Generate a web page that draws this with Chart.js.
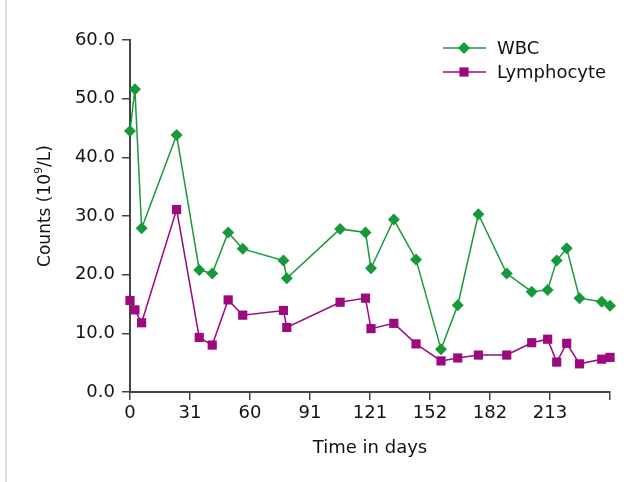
<!DOCTYPE html>
<html>
<head>
<meta charset="utf-8">
<script src="https://cdn.jsdelivr.net/npm/chart.js@4"></script>
<style>
  html, body { margin: 0; padding: 0; background: #fff; }
  #wrap { position: relative; width: 633px; height: 482px; }
  #edge { position: absolute; left: 5px; top: 0; width: 2px; height: 482px; background: #dcdcdc; }
</style>
</head>
<body>
<div id="wrap">
  <div id="edge"></div>
  <canvas id="chart" width="633" height="482"></canvas>
</div>
<script>
// axis units: one month interval = 30.5 units
const days = [0, 2.5, 5.9, 23.7, 35.2, 41.8, 49.9, 57.3, 78.0, 79.7, 106.8, 119.7, 122.5,
  134.1, 145.4, 158.1, 166.6, 177.1, 191.5, 204.2, 212.3, 216.9, 222.0, 228.5, 239.8, 244.0];
const wbc = [44.5, 51.6, 27.9, 43.8, 20.8, 20.2, 27.2, 24.4, 22.4, 19.4, 27.8, 27.2, 21.1,
  29.4, 22.6, 7.3, 14.8, 30.3, 20.2, 17.1, 17.4, 22.4, 24.5, 16.0, 15.4, 14.7];
const lymphocyte = [15.6, 14.0, 11.8, 31.1, 9.3, 8.0, 15.7, 13.1, 13.9, 11.0, 15.3, 16.0, 10.8,
  11.7, 8.2, 5.3, 5.8, 6.3, 6.3, 8.4, 9.0, 5.1, 8.3, 4.8, 5.6, 5.9];
const xTickPos = [0, 30.5, 61, 91.5, 122, 152.5, 183, 213.5, 244];
const xTickLabels = ['0', '31', '60', '91', '121', '152', '182', '213', ''];

const GREEN = '#17993a';
const MAGENTA = '#9c0a7d';
const FONT = "'DejaVu Sans', sans-serif";

const toPoints = (xs, ys) => xs.map((x, i) => ({ x, y: ys[i] }));

function drawMarker(ctx, style, x, y, r, color) {
  ctx.fillStyle = color;
  ctx.beginPath();
  if (style === 'rectRot') {
    ctx.moveTo(x - r, y); ctx.lineTo(x, y - r); ctx.lineTo(x + r, y); ctx.lineTo(x, y + r);
  } else {
    const s = r * Math.SQRT1_2;
    ctx.rect(x - s, y - s, 2 * s, 2 * s);
  }
  ctx.closePath();
  ctx.fill();
}

// titles and legend drawn by hand (superscript + line/marker legend)
const extras = {
  id: 'extras',
  afterDraw(chart) {
    const ctx = chart.ctx;
    ctx.save();
    ctx.fillStyle = '#111';
    ctx.textBaseline = 'middle';

    // x title
    ctx.font = '18px ' + FONT;
    ctx.textAlign = 'center';
    ctx.fillText('Time in days', 370, 448);

    // y title with superscript
    ctx.translate(46, 206);
    ctx.rotate(-Math.PI / 2);
    const p1 = 'Counts (10', sup = '9', p2 = '/L)';
    ctx.font = '17px ' + FONT;
    const w1 = ctx.measureText(p1).width, w3 = ctx.measureText(p2).width;
    ctx.font = '11px ' + FONT;
    const w2 = ctx.measureText(sup).width;
    let x0 = -(w1 + w2 + w3) / 2;
    ctx.textAlign = 'left';
    ctx.font = '17px ' + FONT;
    ctx.fillText(p1, x0, 0);
    ctx.font = '11px ' + FONT;
    ctx.fillText(sup, x0 + w1, -7);
    ctx.font = '17px ' + FONT;
    ctx.fillText(p2, x0 + w1 + w2, 0);
    ctx.restore();

    // legend
    ctx.save();
    const items = [
      { label: 'WBC', color: GREEN, style: 'rectRot', r: 6, y: 48 },
      { label: 'Lymphocyte', color: MAGENTA, style: 'rect', r: 6.5, y: 72 }
    ];
    items.forEach(it => {
      ctx.strokeStyle = it.color;
      ctx.lineWidth = 1.5;
      ctx.beginPath();
      ctx.moveTo(443, it.y); ctx.lineTo(486, it.y);
      ctx.stroke();
      drawMarker(ctx, it.style, 464, it.y, it.r, it.color);
      ctx.fillStyle = '#111';
      ctx.font = '18px ' + FONT;
      ctx.textAlign = 'left';
      ctx.textBaseline = 'middle';
      ctx.fillText(it.label, 497, it.y + 1);
    });
    ctx.restore();
  }
};

new Chart(document.getElementById('chart'), {
  type: 'line',
  data: {
    datasets: [
      {
        label: 'WBC',
        data: toPoints(days, wbc),
        borderColor: GREEN,
        backgroundColor: GREEN,
        borderWidth: 1.5,
        pointStyle: 'rectRot',
        pointRadius: 6,
        pointBorderWidth: 0,
        tension: 0,
        clip: false
      },
      {
        label: 'Lymphocyte',
        data: toPoints(days, lymphocyte),
        borderColor: MAGENTA,
        backgroundColor: MAGENTA,
        borderWidth: 1.5,
        pointStyle: 'rect',
        pointRadius: 6.5,
        pointBorderWidth: 0,
        tension: 0,
        clip: false
      }
    ]
  },
  options: {
    responsive: false,
    animation: false,
    events: [],
    layout: { padding: { left: 0, right: 23, top: 40, bottom: 0 } },
    plugins: {
      legend: { display: false },
      tooltip: { enabled: false }
    },
    scales: {
      x: {
        type: 'linear',
        min: 0,
        max: 244,
        afterFit: s => { s.height = 90; },
        afterBuildTicks: s => { s.ticks = xTickPos.map(v => ({ value: v })); },
        grid: { drawOnChartArea: false, drawTicks: true, tickLength: 8, color: '#444', lineWidth: 1.5 },
        border: { display: true, color: '#444', width: 2 },
        ticks: {
          autoSkip: false,
          maxRotation: 0,
          padding: 3,
          color: '#111',
          font: { family: FONT, size: 18 },
          callback: (v, i) => xTickLabels[i]
        }
      },
      y: {
        min: 0,
        max: 60,
        afterFit: s => { s.width = 130; },
        grid: { drawOnChartArea: false, drawTicks: true, tickLength: 8, color: '#444', lineWidth: 1.5 },
        border: { display: true, color: '#444', width: 2 },
        ticks: {
          stepSize: 10,
          padding: 7,
          color: '#111',
          font: { family: FONT, size: 18 },
          callback: v => v.toFixed(1)
        }
      }
    }
  },
  plugins: [extras]
});
</script>
</body>
</html>
